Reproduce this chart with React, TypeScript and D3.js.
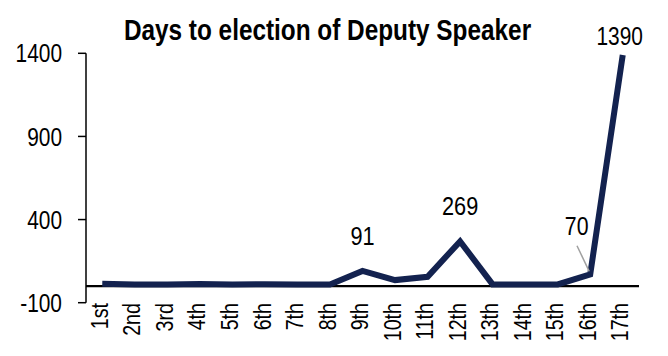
import React from "react";
import * as d3 from "d3";

const categories = ["1st","2nd","3rd","4th","5th","6th","7th","8th","9th","10th","11th","12th","13th","14th","15th","16th","17th"];
const days = [14, 10, 10, 12, 9, 11, 9, 9, 91, 36, 56, 269, 10, 10, 10, 70, 1390];
const yTicks = [-100, 400, 900, 1400];
const labelled = ["9th", "12th", "16th", "17th"];

const W = 668, H = 356;
const FONT = "'Liberation Sans', Arial, sans-serif";
const NARROW = 0.82;

function NText(props: { x: number; y: number; size: number; anchor?: string; bold?: boolean; rotate?: number; dy?: string; sx?: number; children: React.ReactNode }) {
  const { x, y, size, anchor = "middle", bold, rotate = 0, dy, sx = NARROW, children } = props;
  return (
    <g transform={`translate(${x},${y}) rotate(${rotate}) scale(${sx},1)`}>
      <text x={0} y={0} dy={dy} textAnchor={anchor} fontFamily={FONT} fontWeight={bold ? "bold" : "normal"} fontSize={size} fill="#000">
        {children}
      </text>
    </g>
  );
}

export default function App() {
  const x = d3.scaleBand<string>().domain(categories).range([86, 639]);
  const y = d3.scaleLinear().domain([-100, 1400]).range([302.7, 53.3]);
  const cx = (c: string) => (x(c) as number) + x.bandwidth() / 2;
  const line = d3.line<number>().x((_, i) => cx(categories[i])).y((d) => y(d));

  return (
    <div style={{ position: "absolute", left: 0, top: 0 }}>
      <svg width={W} height={H} style={{ display: "block", background: "#fff" }}>
        <NText x={327.5} y={39.5} size={29} bold sx={0.84}>
          Days to election of Deputy Speaker
        </NText>
        {/* y axis */}
        <line x1={86} x2={86} y1={y(1400)} y2={y(-100)} stroke="#000" strokeWidth={1.5} />
        {yTicks.map((t) => (
          <g key={t}>
            <line x1={78} x2={86} y1={y(t)} y2={y(t)} stroke="#000" strokeWidth={1.5} />
            <NText x={62} y={y(t)} dy="0.36em" anchor="end" size={25.5}>
              {t}
            </NText>
          </g>
        ))}
        {/* zero line */}
        <line x1={86} x2={639} y1={y(0)} y2={y(0)} stroke="#000" strokeWidth={2.2} />
        {/* x labels */}
        {categories.map((c) => (
          <NText key={c} x={cx(c) - 3} y={303} rotate={-90} dy="0.36em" anchor="end" size={24}>
            {c}
          </NText>
        ))}
        {/* series */}
        <path d={line(days) as string} fill="none" stroke="#13224f" strokeWidth={6} strokeLinejoin="miter" strokeLinecap="butt" />
        {/* data labels */}
        {categories.map((c, i) => {
          if (!labelled.includes(c)) return null;
          const px = cx(c), py = y(days[i]);
          if (c === "16th") {
            return (
              <g key={c}>
                <line x1={577} y1={245.7} x2={px - 1} y2={py - 3} stroke="#a0a0a0" strokeWidth={1.5} />
                <NText x={576.7} y={235} size={26}>{days[i]}</NText>
              </g>
            );
          }
          if (c === "17th") {
            return <NText key={c} x={px - 3} y={py - 9.5} size={25.5}>{days[i]}</NText>;
          }
          return <NText key={c} x={px} y={py - 26} size={26.5}>{days[i]}</NText>;
        })}
      </svg>
    </div>
  );
}
